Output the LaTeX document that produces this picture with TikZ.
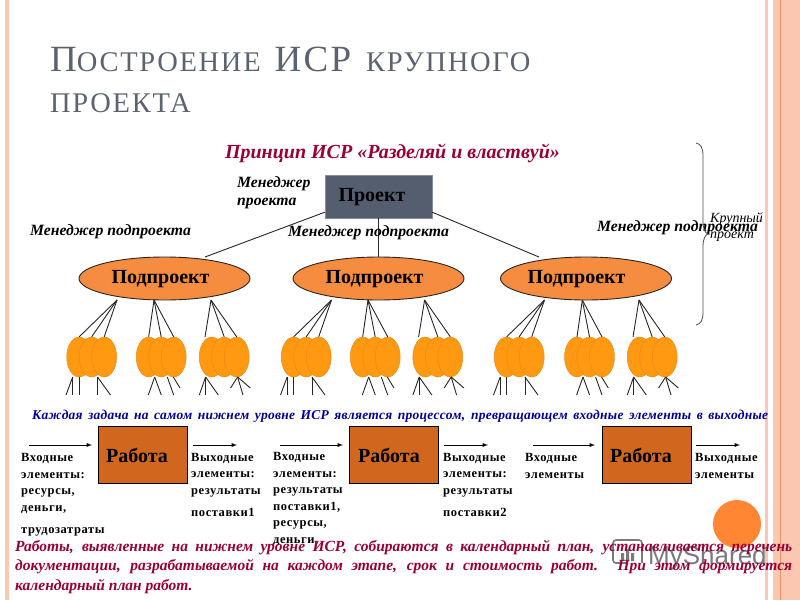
\documentclass[tikz,border=0pt]{standalone}
\usepackage{fontspec}
\setmainfont{Liberation Serif}
\newfontfamily\listfont[LetterSpace=4.5]{Liberation Serif}
\newfontfamily\lineafont[LetterSpace=2]{Liberation Serif}
\newfontfamily\titlefont[LetterSpace=6]{Liberation Serif}
\newfontfamily\markfont{Liberation Sans}
\usetikzlibrary{shapes.geometric}
\definecolor{BarClr}{rgb}{0.99,0.78,0.69}
\definecolor{BarDark}{rgb}{0.93,0.6,0.42}
\definecolor{TitleClr}{rgb}{0.36,0.39,0.44}
\definecolor{CrimsonClr}{rgb}{0.6,0,0.2}
\definecolor{BlueClr}{rgb}{0,0,0.6}
\definecolor{RootClr}{rgb}{0.33,0.37,0.43}
\definecolor{MidClr}{rgb}{0.96,0.55,0.25}
\definecolor{LeafClr}{rgb}{1,0.6,0.07}
\definecolor{LeafEdge}{rgb}{0.91,0.53,0.07}
\definecolor{WorkClr}{rgb}{0.82,0.4,0.12}
\definecolor{DiscClr}{rgb}{1,0.53,0.2}
\tikzset{
  link/.style={black!85,line width=.9pt},
  flow/.style={-latex,black,line width=.9pt},
  leaf/.style={ellipse,draw=LeafEdge,fill=LeafClr,minimum width=25pt,minimum height=40pt,inner sep=0pt},
  midnode/.style={ellipse,draw=black!85,fill=MidClr,line width=.9pt,minimum width=171pt,minimum height=43pt,inner sep=0pt},
  midtxt/.style={inner sep=0pt,font=\fontsize{20}{22}\selectfont\bfseries},
  worknode/.style={draw=black,fill=WorkClr,line width=.9pt,minimum width=89pt,minimum height=57pt,inner sep=0pt},
  worktxt/.style={inner sep=0pt,font=\fontsize{20}{22}\selectfont\bfseries},
  staff/.style={anchor=base west,inner sep=0pt,font=\fontsize{15.7}{18}\selectfont\bfseries\itshape},
  items/.style={anchor=base west,inner sep=0pt,align=left,font=\fontsize{12.5}{16.5}\listfont\bfseries},
  headline/.style={anchor=base west,inner sep=0pt,TitleClr},
}
\newcommand{\twig}[3]{\path (#1) ++(#2,#3) coordinate (tip); \draw[link] (#1) -- (tip);}
\begin{document}
\begin{tikzpicture}[x=1pt,y=-1pt]
\useasboundingbox (0,0) rectangle (800,600);

% side bars
\fill[BarClr] (4.5,0) rectangle (8.5,600);
\fill[BarClr] (765,0) rectangle (768,600);
\fill[BarClr] (773,0) rectangle (800,600);
\fill[BarDark] (779.5,0) rectangle (781,600);

% title
\node[headline] (titleA) at (50,71)
  {\titlefont\fontsize{37}{40}\selectfont П\fontsize{28.5}{40}\selectfont ОСТРОЕНИЕ\hspace{14pt}\fontsize{37}{40}\selectfont ИСР\hspace{15pt}\fontsize{28.5}{40}\selectfont КРУПНОГО};
\node[headline] (titleB) at (50,112) {\titlefont\fontsize{28.5}{40}\selectfont ПРОЕКТА};
\node[anchor=center,inner sep=0pt,CrimsonClr,font=\fontsize{20}{22}\selectfont\bfseries\itshape] (motto) at (392.5,153)
  {Принцип ИСР «Разделяй и властвуй»};

% tree
\node[draw=RootClr!70,fill=RootClr,minimum width=107pt,minimum height=43pt,inner sep=0pt] (root) at (378.5,196.5) {};
\node[midtxt] (rootname) at (372,197) {Проект};
\node[midnode] (subA) at (164.5,278.5) {};
\node[midnode] (subB) at (378.5,278.5) {};
\node[midnode] (subC) at (586,278.5) {};
\node[midtxt] (subAname) at (160.5,279) {Подпроект};
\node[midtxt] (subBname) at (374.5,279) {Подпроект};
\node[midtxt] (subCname) at (576.5,279) {Подпроект};

\coordinate (topA) at (205,257);
\coordinate (topC) at (539,257);
\draw[link] (root.south west) ++(0,-6) coordinate (leftout) -- (topA);
\draw[link] (root.south -| subB) -- (subB.north);
\draw[link] (root.south east) ++(0,-6) coordinate (rightout) -- (topC);

% first kind of cluster
\foreach \x [count=\c] in {66.5,281,494} {
  \coordinate (p\c) at (\x+50.5,300);
  \foreach \k in {0,1,2} {
    \node[leaf] (a\c\k) at (\x+12.5*\k+12.7,357) {};
    \draw[link] (p\c) -- (a\c\k.north);
  }
  \path (\x+6.2,377) coordinate (f\c);
  \twig{f\c}{-6.7}{18}
  \twig{f\c}{0}{18}
  \path (\x+12.8,377) coordinate (g\c);
  \twig{g\c}{0}{18}
  \path (\x+31,377) coordinate (h\c);
  \twig{h\c}{0}{18}
  \twig{h\c}{13}{18}
}
% second kind
\foreach \x [count=\c] in {136,350,564.3} {
  \coordinate (q\c) at (\x+18,300);
  \foreach \k in {0,1,2} {
    \node[leaf] (b\c\k) at (\x+12.5*\k+12.7,357) {};
    \draw[link] (q\c) -- (b\c\k.north);
  }
  \path (\x+18.7,377) coordinate (f\c);
  \twig{f\c}{-6.4}{18}
  \twig{f\c}{6.6}{18}
  \path (\x+31.3,377) coordinate (g\c);
  \twig{g\c}{6.4}{18}
  \path (\x+37.3,377) coordinate (h\c);
  \twig{h\c}{6.7}{11}
}
% third kind
\foreach \x [count=\c] in {199,412.6,627} {
  \coordinate (r\c) at (\x+12,300);
  \foreach \k in {0,1,2} {
    \node[leaf] (c\c\k) at (\x+12.5*\k+12.7,357) {};
  }
  \path (\x+6,337) coordinate (s\c);
  \draw[link] (r\c) -- (s\c);
  \draw[link] (r\c) -- (c\c1.north);
  \draw[link] (r\c) -- (c\c2.north);
  \path (\x+6.6,377) coordinate (f\c);
  \twig{f\c}{-6.3}{18}
  \twig{f\c}{0}{18}
  \twig{f\c}{12.7}{18}
  \path (\x+38.6,377) coordinate (g\c);
  \twig{g\c}{-7}{11}
  \twig{g\c}{12.7}{11}
  \twig{g\c}{5.4}{18}
}

% manager labels
\node[staff,align=left] (mgrRoot) at (237,205) {Менеджер\\проекта};
\node[staff] (mgrA) at (30,235) {Менеджер подпроекта};
\node[staff] (mgrB) at (288,236) {Менеджер подпроекта};
\node[staff] (mgrC) at (597,231) {Менеджер подпроекта};

% brace
\coordinate (braceTop) at (696,143);
\coordinate (braceTip) at (708,234);
\coordinate (braceEnd) at (696,325);
\draw[black!70,line width=.8pt] (braceTop) .. controls (701,144) and (703,148) .. (703,156)
  -- (703,221) .. controls (703,229) and (705,233) .. (braceTip)
  .. controls (705,235) and (703,239) .. (703,247) -- (703,312)
  .. controls (703,320) and (701,324) .. (braceEnd);
\node[anchor=base west,inner sep=0pt,align=left,font=\fontsize{14}{16}\selectfont\itshape] (bigproj) at (710,238) {Крупный\\проект};

% process line
\node[anchor=base west,inner sep=0pt,BlueClr,font=\fontsize{13.5}{16}\lineafont\bfseries\itshape] (process) at (32,419)
  {\makebox[736pt][s]{Каждая задача на самом нижнем уровне ИСР является процессом, превращающем входные элементы в выходные}};

% disc behind paragraph
\fill[DiscClr] (737,524) circle (24);

% work boxes
\node[worknode] (workA) at (142.5,454.5) {};
\node[worknode] (workB) at (394,454.5) {};
\node[worknode] (workC) at (646.5,454.5) {};
\node[worktxt] (workAname) at (137,455) {Работа};
\node[worktxt] (workBname) at (389,455) {Работа};
\node[worktxt] (workCname) at (641,455) {Работа};

\foreach \a/\b [count=\c] in {29/92,193/237,280/343,444/488,533/595,696/740} {
  \coordinate (inflow\c) at (\a,445);
  \coordinate (outflow\c) at (\b,445);
  \draw[flow] (inflow\c) -- (outflow\c);
}

% inputs and outputs
\node[items] (listA) at (21,533) {Входные\\элементы:\\ресурсы,\\деньги,\\[5.5pt]трудозатраты};
\node[items] (listB) at (191,516) {Выходные\\элементы:\\результаты\\[5.5pt]поставки1};
\node[items] (listC) at (273,543) {Входные\\элементы:\\результаты\\поставки1,\\ресурсы,\\деньги,};
\node[items] (listD) at (443,516) {Выходные\\элементы:\\результаты\\[5.5pt]поставки2};
\node[items] (listE) at (525,478) {Входные\\элементы};
\node[items] (listF) at (695,478) {Выходные\\элементы};

% site mark
\node[anchor=base west,inner sep=0pt,black!65,opacity=.8,font=\fontsize{26}{28}\markfont] (sitemark) at (648,564) {MyShared};
\draw[black!65,opacity=.8,line width=1.6pt,rounded corners=3pt] (628,563) -- (613,563) -- (613,540) -- (642,540) -- (642,563);
\fill[black!65,opacity=.8] (621,553) rectangle (624,561) (626,549) rectangle (629,561) (631,553) rectangle (634,561);

% closing paragraph
\node[anchor=north west,inner sep=0pt,text width=777pt,align=justify,CrimsonClr,font=\fontsize{15.5}{19.5}\selectfont\bfseries\itshape] (closing) at (15,540)
  {Работы, выявленные на нижнем уровне ИСР, собираются в календарный план, устанавливается перечень\linebreak
   документации, разрабатываемой на каждом этапе, срок и стоимость работ. При этом формируется\linebreak
   календарный план работ.};
\end{tikzpicture}
\end{document}
